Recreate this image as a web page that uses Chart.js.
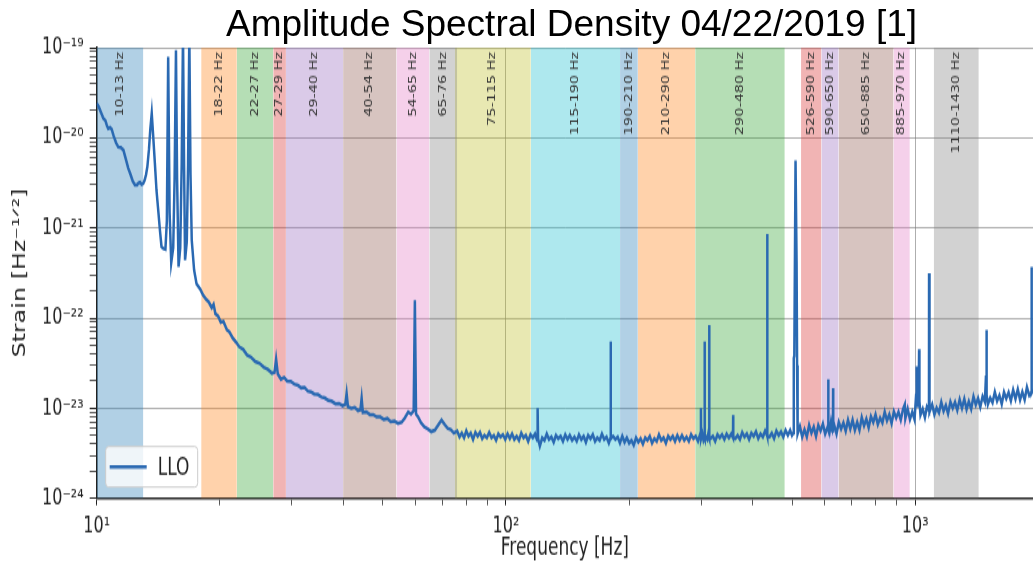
<!DOCTYPE html>
<html>
<head>
<meta charset="utf-8">
<title>Amplitude Spectral Density</title>
<script src="https://cdn.jsdelivr.net/npm/chart.js@4.4.1/dist/chart.umd.min.js"></script>
<style>
  html, body { margin: 0; padding: 0; background: #fff; }
  #wrap { position: relative; width: 1033px; height: 566px; overflow: hidden; }
  #title {
    position: absolute; left: 110px; right: 0; top: 5px;
    text-align: center; white-space: nowrap; color: #000;
    font: 37px "Liberation Sans", Arial, sans-serif; line-height: 37px;
  }
</style>
</head>
<body>
<div id="wrap">
  <!-- canvas is drawn at 1033x404 and shown 1.4x taller, like the stretched original -->
  <canvas id="asd" width="1033" height="404" style="width:1033px;height:566px;position:absolute;left:0;top:0"></canvas>
  <div id="title">Amplitude Spectral Density 04/22/2019 [1]</div>
</div>
<script>
// LLO spectrum: [frequency in Hz, strain in 1/sqrt(Hz)]
const lloSpectrum = [
  [10.0, 2.41e-20], [10.12, 2.2e-20], [10.25, 1.9e-20], [10.38, 1.65e-20], [10.5, 1.55e-20],
  [10.6, 1.35e-20], [10.67, 1.27e-20], [10.78, 1.3e-20], [10.88, 1.24e-20], [11.0, 1.05e-20],
  [11.15, 8.8e-21], [11.29, 7.9e-21], [11.45, 7.8e-21], [11.62, 7.3e-21], [11.78, 5.8e-21],
  [11.94, 4.6e-21], [12.1, 3.9e-21], [12.25, 3.3e-21], [12.4, 3.0e-21], [12.55, 3.0e-21],
  [12.65, 3.15e-21], [12.76, 3.2e-21], [12.88, 3.05e-21], [12.99, 3.1e-21], [13.1, 3.4e-21],
  [13.2, 3.9e-21], [13.3, 4.8e-21], [13.42, 7.5e-21], [13.52, 1.25e-20], [13.63, 1.87e-20],
  [13.75, 1.0e-20], [13.88, 5.0e-21], [14.0, 2.6e-21], [14.15, 1.5e-21], [14.27, 9.5e-22],
  [14.4, 6.2e-22], [14.55, 5.9e-22], [14.72, 5.8e-22], [14.84, 1.2e-21], [14.95, 7.9e-20],
  [15.07, 1.5e-21], [15.21, 4.1e-22], [15.38, 6.0e-22], [15.5, 3.5e-21], [15.62, 9.4e-20],
  [15.72, 3.5e-21], [15.85, 3.7e-22], [16.0, 6.0e-22], [16.13, 5.0e-21], [16.25, 1.4e-19],
  [16.35, 5.0e-21], [16.44, 4.4e-22], [16.6, 7.0e-22], [16.72, 5.0e-21], [16.84, 1.4e-19],
  [16.95, 4.0e-21], [17.07, 7.3e-22], [17.3, 3.4e-22], [17.54, 2.4e-22], [17.9, 2.1e-22],
  [18.2, 1.8e-22], [18.5, 1.62e-22], [18.8, 1.5e-22], [19.1, 1.3e-22], [19.3, 1.42e-22],
  [19.5, 1.12e-22], [19.8, 1.05e-22], [20.1, 9.0e-23], [20.4, 9.2e-23], [20.8, 7.4e-23],
  [21.1, 7.0e-23], [21.5, 6.0e-23], [21.9, 5.4e-23], [22.3, 4.8e-23], [22.8, 4.5e-23],
  [23.3, 3.9e-23], [23.8, 3.7e-23], [24.4, 3.3e-23], [25.0, 3.15e-23], [25.6, 2.85e-23],
  [26.2, 2.7e-23], [26.8, 2.45e-23], [27.2, 2.5e-23], [27.44, 3.5e-23], [27.7, 2.4e-23],
  [28.2, 2.1e-23], [28.7, 2.2e-23], [29.2, 2.0e-23], [29.8, 1.98e-23], [30.4, 1.85e-23],
  [31.0, 1.8e-23], [31.6, 1.68e-23], [32.2, 1.7e-23], [32.8, 1.55e-23], [33.4, 1.52e-23],
  [34.0, 1.44e-23], [34.7, 1.42e-23], [35.4, 1.33e-23], [36.1, 1.3e-23], [36.8, 1.22e-23],
  [37.5, 1.2e-23], [38.3, 1.12e-23], [39.1, 1.13e-23], [39.9, 1.06e-23], [40.5, 1.1e-23],
  [40.8, 1.46e-23], [41.1, 1.04e-23], [41.9, 1.0e-23], [42.7, 1.02e-23], [43.5, 9.4e-24],
  [44.1, 9.6e-24], [44.4, 1.29e-23], [44.7, 9.0e-24], [45.6, 9.1e-24], [46.5, 8.5e-24],
  [47.4, 8.5e-24], [48.3, 8.0e-24], [49.3, 8.0e-24], [50.3, 7.5e-24], [51.3, 7.7e-24],
  [52.3, 7.1e-24], [53.4, 7.2e-24], [54.5, 6.8e-24], [55.6, 7.0e-24], [56.6, 7.8e-24],
  [57.7, 9.1e-24], [58.6, 8.6e-24], [59.5, 9.4e-24], [59.9, 1.58e-22], [60.3, 8.6e-24],
  [61.0, 8.0e-24], [62.0, 6.9e-24], [63.2, 6.2e-24], [64.4, 5.9e-24], [65.7, 5.5e-24],
  [67.0, 5.7e-24], [68.3, 6.5e-24], [69.6, 7.4e-24], [70.8, 6.6e-24], [72.0, 6.0e-24],
  [73.3, 5.8e-24], [74.6, 5.3e-24],
  [76, 5.6e-24], [77, 4.8e-24], [78, 5.3e-24], [79, 4.7e-24], [80, 5.6e-24], [81, 4.9e-24],
  [82, 5.3e-24], [83.1, 4.5e-24], [84.2, 5.4e-24], [85.3, 4.9e-24], [86.4, 5.4e-24], [87.5, 4.6e-24],
  [88.6, 5.0e-24], [89.8, 4.7e-24], [91, 5.4e-24], [92.2, 4.7e-24], [93.4, 5.0e-24], [94.6, 4.4e-24],
  [95.8, 5.2e-24], [97, 4.8e-24], [98.3, 5.1e-24], [99.6, 4.5e-24], [100.9, 5.2e-24], [102.2, 4.6e-24],
  [103.5, 5.2e-24], [104.8, 4.5e-24], [106.2, 4.9e-24], [107.6, 4.4e-24], [109, 5.3e-24], [110.4, 4.7e-24],
  [111.8, 5.0e-24], [113.3, 4.3e-24], [114.8, 5.1e-24], [116.3, 4.7e-24], [117.8, 5.2e-24], [119.2, 4.4e-24],
  [119.5, 1.0e-23], [119.8, 4.6e-24], [121, 3.8e-24], [122.6, 4.7e-24], [124.2, 4.4e-24], [125.8, 5.2e-24],
  [127.4, 4.5e-24], [129.1, 4.8e-24], [130.8, 4.2e-24], [132.5, 5.0e-24], [134.2, 4.6e-24], [136, 4.9e-24],
  [137.8, 4.3e-24], [139.6, 5.1e-24], [141.4, 4.5e-24], [143.2, 5.0e-24], [145.1, 4.4e-24], [147, 4.8e-24],
  [148.9, 4.3e-24], [150.8, 5.1e-24], [152.8, 4.5e-24], [154.8, 4.9e-24], [156.8, 4.2e-24], [158.8, 5.0e-24],
  [160.9, 4.6e-24], [163, 5.1e-24], [165.1, 4.3e-24], [167.2, 4.7e-24], [169.4, 4.4e-24], [171.6, 5.2e-24],
  [173.8, 4.5e-24], [176.1, 4.8e-24], [178.4, 4.1e-24], [179.9, 4.6e-24], [180.2, 5.5e-23], [180.5, 4.6e-24],
  [182.7, 4.9e-24], [185.1, 4.5e-24], [187.5, 4.8e-24], [189.9, 4.1e-24], [192.4, 4.9e-24], [194.9, 4.2e-24],
  [197.4, 4.7e-24], [200, 4.1e-24], [202.6, 4.4e-24], [205.2, 3.9e-24], [207.9, 4.7e-24], [210.6, 4.2e-24],
  [213.3, 4.6e-24], [216.1, 4.0e-24], [218.9, 4.7e-24], [221.7, 4.4e-24], [224.6, 4.9e-24], [227.5, 4.1e-24],
  [230.5, 4.6e-24], [233.5, 4.3e-24], [236.5, 5.1e-24], [239.6, 4.4e-24], [242.7, 4.7e-24], [245.9, 4.1e-24],
  [249.1, 4.9e-24], [252.3, 4.5e-24], [255.6, 4.9e-24], [258.9, 4.3e-24], [262.3, 5.0e-24], [265.7, 4.4e-24],
  [269.2, 5.0e-24], [272.7, 4.4e-24], [276.2, 4.8e-24], [279.8, 4.3e-24], [283.4, 5.1e-24], [287.1, 4.6e-24],
  [290.8, 4.9e-24], [294.6, 4.3e-24], [297.6, 5.0e-24], [299.2, 4.6e-24], [299.5, 1.0e-23], [299.8, 4.6e-24],
  [301.9, 5.2e-24], [303.9, 4.4e-24], [305.5, 4.7e-24], [305.8, 5.5e-23], [306.1, 4.6e-24], [308, 4.8e-24],
  [310.4, 4.5e-24], [312.4, 5.3e-24], [313.5, 4.7e-24], [313.8, 8.4e-23], [314.1, 4.6e-24], [316.2, 4.6e-24],
  [320.3, 4.9e-24], [324.5, 4.3e-24], [328.7, 5.1e-24], [333, 4.7e-24], [337.3, 5.1e-24], [341.7, 4.5e-24],
  [346.1, 5.2e-24], [350.6, 4.7e-24], [355.2, 5.2e-24], [358.7, 4.7e-24], [359.0, 8.4e-24], [359.3, 4.7e-24],
  [363.5, 4.6e-24], [368.2, 5.0e-24], [373, 4.5e-24], [377.8, 5.4e-24], [382.7, 4.8e-24], [387.7, 5.2e-24],
  [392.7, 4.5e-24], [397.8, 5.3e-24], [403, 4.9e-24], [408.2, 5.5e-24], [413.5, 4.6e-24], [418.9, 5.2e-24],
  [424.3, 4.8e-24], [429.8, 5.6e-24], [434.7, 5.0e-24], [435.0, 8.6e-22], [435.3, 4.9e-24], [440.5, 4.8e-24],
  [446.2, 5.3e-24], [452, 4.6e-24], [457.9, 5.6e-24], [463.9, 5.0e-24], [469.9, 5.5e-24], [476, 4.8e-24],
  [482.2, 5.7e-24], [488.5, 5.0e-24], [494.8, 5.7e-24], [499.8, 5.0e-24], [503.5, 5.3e-24], [505.0, 3.6e-23],
  [506.5, 3.8e-23], [510.0, 5.6e-21], [513.0, 4.2e-22], [514.5, 3.0e-23], [516.0, 5.2e-24],
  [522.7, 6.3e-24], [529.5, 4.8e-24], [536.4, 5.8e-24], [543.4, 4.8e-24], [550.5, 6.5e-24], [557.7, 5.3e-24],
  [565, 6.2e-24], [572.3, 4.9e-24], [579.7, 6.5e-24], [587.2, 5.6e-24], [594.8, 6.7e-24], [602.5, 5.2e-24],
  [610.3, 6.1e-24], [612.8, 5.9e-24], [613.2, 2.1e-23], [613.6, 5.8e-24], [617.5, 5.4e-24], [622.5, 7.0e-24],
  [627, 5.6e-24], [629.5, 6.0e-24], [630, 1.67e-23], [630.5, 6.0e-24], [634, 6.5e-24], [642.2, 5.2e-24],
  [650.5, 7.0e-24], [659, 5.9e-24], [667.6, 6.9e-24], [676.3, 5.6e-24], [685.1, 7.4e-24], [694, 5.9e-24],
  [703, 7.4e-24], [712.1, 5.7e-24], [721.4, 7.0e-24], [730.8, 5.7e-24], [740.3, 7.9e-24], [749.9, 6.4e-24],
  [759.6, 7.6e-24], [769.5, 6.1e-24], [779.5, 8.1e-24], [789.6, 7.0e-24], [799.9, 8.5e-24], [810.3, 6.6e-24],
  [820.8, 7.8e-24], [831.5, 6.9e-24], [842.3, 9.1e-24], [853.2, 7.3e-24], [864.3, 8.5e-24], [875.5, 6.8e-24],
  [886.9, 9.2e-24], [898.4, 7.8e-24], [910.1, 9.1e-24], [921.9, 7.4e-24], [933.9, 9.8e-24], [943, 1.1e-23],
  [946, 7.7e-24], [958.3, 9.8e-24], [970.8, 7.5e-24], [983.4, 9.1e-24], [996.2, 7.5e-24], [1005, 1.4e-23],
  [1007, 2.9e-23], [1009, 1.5e-23], [1015, 1.03e-23], [1020, 1.5e-23], [1022, 4.5e-23], [1024, 1.2e-23],
  [1030, 8.4e-24], [1043, 9.8e-24], [1056, 7.9e-24], [1068, 1.04e-23], [1080.5, 9.4e-24], [1081, 3.15e-22],
  [1081.5, 9.4e-24], [1086, 9.1e-24], [1100, 1.1e-23], [1114, 8.5e-24], [1128, 1.01e-23], [1143, 8.9e-24],
  [1158, 1.17e-23], [1173, 9.3e-24], [1188, 1.08e-23], [1203, 8.7e-24], [1219, 1.18e-23], [1235, 1.0e-23],
  [1251, 1.17e-23], [1267, 9.5e-24], [1284, 1.25e-23], [1301, 1.0e-23], [1318, 1.27e-23], [1335, 9.7e-24],
  [1352, 1.19e-23], [1370, 9.8e-24], [1388, 1.35e-23], [1406, 1.09e-23], [1424, 1.29e-23], [1442, 1.03e-23],
  [1461, 1.36e-23], [1480, 1.18e-23], [1489, 2.3e-23], [1492.6, 1.5e-23], [1493, 7.4e-23], [1493.4, 2.2e-23],
  [1497, 1.4e-23], [1505, 1.1e-23], [1525, 1.3e-23], [1545, 1.15e-23], [1565, 1.51e-23], [1585, 1.2e-23],
  [1606, 1.39e-23], [1627, 1.11e-23], [1648, 1.51e-23], [1669, 1.28e-23], [1691, 1.5e-23], [1713, 1.21e-23],
  [1735, 1.6e-23], [1758, 1.27e-23], [1781, 1.62e-23], [1804, 1.24e-23], [1827, 1.52e-23], [1851, 1.24e-23],
  [1875, 1.71e-23], [1899, 1.39e-23], [1921, 1.5e-23], [1924, 3.7e-22], [1927, 1.5e-23], [1940, 1.63e-23]
];

// Frequency bands (Hz)
const bandLow  = [10, 18, 22, 27, 29, 40, 54, 65, 75, 115, 190, 210, 290, 526, 590, 650, 885, 1110];
const bandHigh = [13, 22, 27, 29, 40, 54, 65, 76, 115, 190, 210, 290, 480, 590, 650, 885, 970, 1430];
const bandLabels = [
  '10-13 Hz', '18-22 Hz', '22-27 Hz', '27-29 Hz', '29-40 Hz', '40-54 Hz', '54-65 Hz', '65-76 Hz',
  '75-115 Hz', '115-190 Hz', '190-210 Hz', '210-290 Hz', '290-480 Hz', '526-590 Hz', '590-650 Hz',
  '650-885 Hz', '885-970 Hz', '1110-1430 Hz'
];

// Axis ticks
const xTickValues = [10, 100, 1000];
const xTickLabels = ['10¹', '10²', '10³'];
const yTickValues = [1e-24, 1e-23, 1e-22, 1e-21, 1e-20, 1e-19];
const yTickLabels = ['10⁻²⁴', '10⁻²³', '10⁻²²', '10⁻²¹', '10⁻²⁰', '10⁻¹⁹'];
const minorSteps = [2, 3, 4, 5, 6, 7, 8, 9];
const xMax = 1940;

// matplotlib tab10 cycle, light
const bandColors = [
  'rgba(31,119,180,0.35)', 'rgba(255,127,14,0.35)', 'rgba(44,160,44,0.35)', 'rgba(214,39,40,0.35)',
  'rgba(148,103,189,0.35)', 'rgba(140,86,75,0.35)', 'rgba(227,119,194,0.35)', 'rgba(127,127,127,0.35)',
  'rgba(188,189,34,0.35)', 'rgba(23,190,207,0.35)'
];
const lineColor = '#2a69b2';
const gridColor = 'rgba(120,120,120,0.6)';

Chart.defaults.font.family = "'DejaVu Sans', sans-serif";
Chart.defaults.color = '#222';

function logTicks(majors, labels, lo, hi) {
    const ticks = [];
    majors.forEach((v, i) => {
        if (v >= lo && v <= hi) ticks.push({ value: v, major: true, text: labels[i] });
        minorSteps.forEach(m => {
            const mv = v * m;
            if (mv > lo && mv < hi) ticks.push({ value: mv, major: false, text: '' });
        });
    });
    return ticks;
}

const yMin = yTickValues[0];
const yMax = yTickValues[yTickValues.length - 1];

// vertical band labels near the top of each band
const bandText = {
    id: 'bandText',
    afterDatasetsDraw(chart) {
        const { ctx, chartArea, scales: { x } } = chart;
        ctx.save();
        ctx.font = "10.3px 'DejaVu Sans'";
        ctx.fillStyle = '#333';
        ctx.textAlign = 'right';
        ctx.textBaseline = 'middle';
        bandLabels.forEach((label, i) => {
            const cx = (x.getPixelForValue(bandLow[i]) + x.getPixelForValue(bandHigh[i])) / 2;
            ctx.save();
            ctx.translate(cx, chartArea.top + 3);
            ctx.rotate(-Math.PI / 2);
            ctx.fillText(label, 0, 0);
            ctx.restore();
        });
        ctx.restore();
    }
};

// matplotlib style legend box in the lower left corner
const legendBox = {
    id: 'legendBox',
    afterDraw(chart) {
        const { ctx, chartArea } = chart;
        const ds = chart.data.datasets[0];
        const x = chartArea.left + 9;
        const y = chartArea.bottom - 37;
        const w = 92, h = 29;
        ctx.save();
        ctx.fillStyle = 'rgba(255,255,255,0.8)';
        ctx.strokeStyle = '#cccccc';
        ctx.lineWidth = 1;
        ctx.beginPath();
        ctx.roundRect(x, y, w, h, 3);
        ctx.fill();
        ctx.stroke();
        ctx.strokeStyle = ds.borderColor;
        ctx.lineWidth = ds.borderWidth;
        ctx.beginPath();
        ctx.moveTo(x + 4, y + h / 2);
        ctx.lineTo(x + 41, y + h / 2);
        ctx.stroke();
        ctx.fillStyle = '#222';
        ctx.font = "17px 'DejaVu Sans'";
        ctx.textBaseline = 'middle';
        ctx.fillText(ds.label, x + 52, y + h / 2 + 1);
        ctx.restore();
    }
};

const bandSets = bandLow.map((lo, i) => ({
    label: bandLabels[i],
    data: [{ x: lo, y: yMax }, { x: bandHigh[i], y: yMax }],
    backgroundColor: bandColors[i % bandColors.length],
    borderWidth: 0,
    pointRadius: 0,
    fill: 'start',
    order: 1
}));

const config = {
    type: 'line',
    data: {
        datasets: [
            {
                label: 'LLO',
                data: lloSpectrum.map(([f, s]) => ({ x: f, y: s })),
                borderColor: lineColor,
                borderWidth: 2.5,
                pointRadius: 0,
                tension: 0,
                fill: false,
                order: 0
            },
            ...bandSets
        ]
    },
    plugins: [bandText, legendBox],
    options: {
        responsive: false,
        animation: false,
        devicePixelRatio: 1,
        events: [],
        layout: {
            autoPadding: false,
            padding: { top: 34, right: 0, bottom: 0, left: 0 }
        },
        plugins: {
            legend: { display: false },
            tooltip: { enabled: false },
            title: { display: false }
        },
        scales: {
            x: {
                type: 'logarithmic',
                min: xTickValues[0],
                max: xMax,
                afterBuildTicks: (scale) => {
                    scale.ticks = logTicks(xTickValues, xTickLabels, scale.min, scale.max);
                },
                afterFit: (scale) => { scale.height = 48.3; },
                grid: {
                    color: (c) => (c.tick && c.tick.major ? gridColor : 'rgba(0,0,0,0)'),
                    tickColor: (c) => (c.tick && c.tick.major ? '#222' : '#555'),
                    tickLength: 5,
                    lineWidth: 1
                },
                border: { color: '#222', width: 1.6 },
                ticks: {
                    autoSkip: false,
                    maxRotation: 0,
                    padding: 6,
                    color: '#222',
                    font: { size: 16 },
                    callback: (value, index, ticks) => ticks[index].text
                },
                title: {
                    display: true,
                    text: 'Frequency [Hz]',
                    color: '#222',
                    font: { size: 17 },
                    padding: { top: 0, bottom: 2 }
                }
            },
            y: {
                type: 'logarithmic',
                min: yMin,
                max: yMax,
                afterBuildTicks: (scale) => {
                    scale.ticks = logTicks(yTickValues, yTickLabels, scale.min, scale.max);
                },
                afterFit: (scale) => { scale.width = 96.7; },
                grid: {
                    color: (c) => (c.tick && c.tick.major ? gridColor : 'rgba(0,0,0,0)'),
                    tickColor: (c) => (c.tick && c.tick.major ? '#222' : '#555'),
                    tickLength: 7,
                    lineWidth: 1
                },
                border: { color: '#222', width: 1.6 },
                ticks: {
                    autoSkip: false,
                    padding: 6,
                    color: '#222',
                    font: { size: 16 },
                    callback: (value, index, ticks) => ticks[index].text
                },
                title: {
                    display: true,
                    text: 'Strain [Hz⁻¹ᐟ²]',
                    color: '#222',
                    font: { size: 17 },
                    padding: { top: 10, bottom: 0 }
                }
            }
        }
    }
};

const chart = new Chart(document.getElementById('asd').getContext('2d'), config);
</script>
</body>
</html>
